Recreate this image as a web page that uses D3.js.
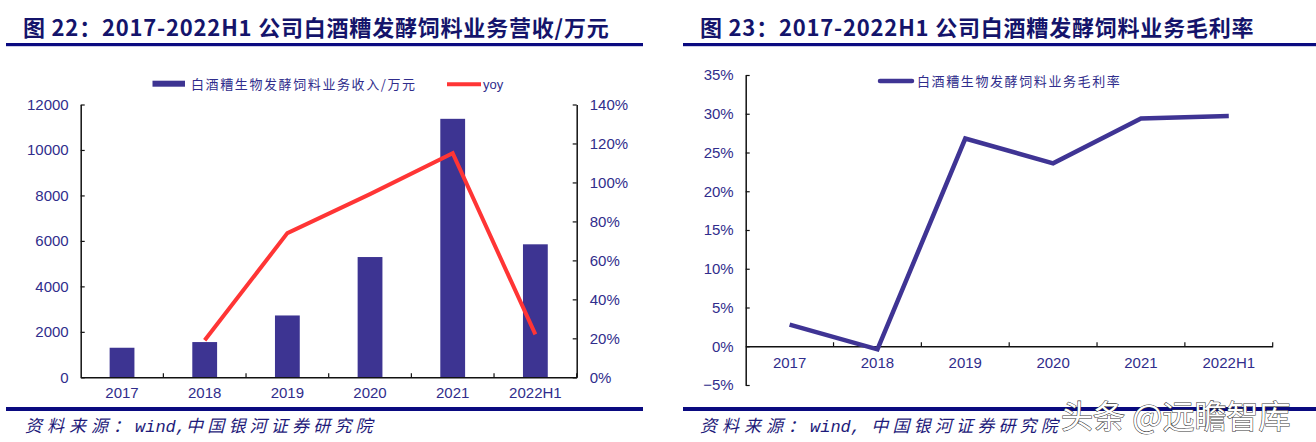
<!DOCTYPE html>
<html>
<head>
<meta charset="utf-8">
<script src="https://cdn.jsdelivr.net/npm/d3@7/dist/d3.min.js"></script>
<style>
  html, body { margin: 0; padding: 0; background: #fff; }
  svg { display: block; }
</style>
</head>
<body>
<svg id="chart" width="1316" height="442"></svg>
<script>
// ---------- data ----------
const categories = ["2017", "2018", "2019", "2020", "2021", "2022H1"];
const revenue = [1300, 1550, 2720, 5290, 11370, 5850];          // 万元
const yoy = [null, 0.19, 0.74, 0.94, 1.15, 0.22];                // growth
const grossMargin = [0.028, -0.004, 0.268, 0.236, 0.294, 0.297]; // margin
const revenueTicks = [0, 2000, 4000, 6000, 8000, 10000, 12000];
const yoyTicks = [0, 0.2, 0.4, 0.6, 0.8, 1.0, 1.2, 1.4];
const marginTicks = [-0.05, 0, 0.05, 0.10, 0.15, 0.20, 0.25, 0.30, 0.35];

const title1 = "图 22：2017-2022H1 公司白酒糟发酵饲料业务营收/万元";
const title2 = "图 23：2017-2022H1 公司白酒糟发酵饲料业务毛利率";
const legendBar = "白酒糟生物发酵饲料业务收入/万元";
const legendYoy = "yoy";
const legendMargin = "白酒糟生物发酵饲料业务毛利率";
const source1 = ["资料来源：", "wind,", "中国银河证券研究院"];
const source2 = ["资料来源：", "wind, ", "中国银河证券研究院"];
const watermark = "头条 @远瞻智库";

// ---------- styles ----------
const NAVY = "#14146b";
const RULE = "#0a0a80";
const LABEL = "#302d8c";
const BAR = "#3d3492";
const RED = "#ff3535";
const PURPLE = "#3f3494";
const tickFont = "'Liberation Sans Narrow', 'Arial Narrow', 'Liberation Sans', Arial, sans-serif";
const cjkFont = "'Liberation Sans Narrow', 'Noto Sans CJK SC', sans-serif";

const svg = d3.select("#chart");

function styleAxis(g) {
  g.selectAll("path.domain").attr("stroke", "#111").attr("stroke-width", 1.5);
  g.selectAll(".tick line").attr("stroke", "#111").attr("stroke-width", 1.2);
  g.selectAll(".tick text").attr("fill", LABEL).attr("font-family", tickFont).attr("font-size", 15);
}

// ---------- titles & rules ----------
function header(x0, x1, tx, text) {
  svg.append("text").attr("x", tx).attr("y", 36)
    .attr("font-family", cjkFont).attr("font-weight", "bold")
    .attr("font-size", 22).attr("letter-spacing", 0.8)
    .attr("fill", NAVY).text(text);
  svg.append("rect").attr("x", x0).attr("y", 43).attr("width", x1 - x0).attr("height", 3.2).attr("fill", RULE);
  svg.append("rect").attr("x", x0).attr("y", 407).attr("width", x1 - x0).attr("height", 4).attr("fill", RULE);
}
header(6, 643, 23, title1);
header(683, 1316, 700, title2);

function sourceLine(x, parts) {
  const t = svg.append("text").attr("x", x).attr("y", 432)
    .attr("font-style", "italic").attr("font-size", 17).attr("fill", "#1e1a7a")
    .attr("font-family", "'Noto Sans CJK SC', sans-serif");
  t.append("tspan").attr("letter-spacing", 5).text(parts[0]);
  t.append("tspan").attr("font-family", "'Liberation Mono', monospace").attr("letter-spacing", 0).text(parts[1]);
  t.append("tspan").attr("letter-spacing", 4.2).text(parts[2]);
}
sourceLine(25, source1);
sourceLine(700, source2);

// ---------- left chart ----------
const xL = d3.scaleBand().domain(categories).range([80.7, 576.7]).padding(0);
const yL = d3.scaleLinear().domain([0, 12000]).range([377.3, 104.5]);
const yR = d3.scaleLinear().domain([0, 1.4]).range([377.3, 104.5]);
const barW = xL.bandwidth() * 0.3;

svg.append("g").selectAll("rect").data(categories).join("rect")
  .attr("x", (d) => xL(d) + xL.bandwidth() / 2 - barW / 2)
  .attr("y", (d, i) => yL(revenue[i]))
  .attr("width", barW)
  .attr("height", (d, i) => yL(0) - yL(revenue[i]))
  .attr("fill", BAR);

const gLy = svg.append("g").attr("transform", `translate(${xL.range()[0]},0)`)
  .call(d3.axisLeft(yL).tickValues(revenueTicks).tickFormat(d3.format("d")).tickSize(-4).tickSizeOuter(0).tickPadding(12));
styleAxis(gLy);
const gRy = svg.append("g").attr("transform", `translate(${xL.range()[1]},0)`)
  .call(d3.axisRight(yR).tickValues(yoyTicks).tickFormat(d3.format(".0%")).tickSize(-4).tickSizeOuter(0).tickPadding(13));
styleAxis(gRy);

const gLx = svg.append("g").attr("transform", `translate(0,${yL(0)})`)
  .call(d3.axisBottom(xL).tickSize(0).tickPadding(10));
styleAxis(gLx);
svg.append("g").selectAll("line").data(categories).join("line")
  .attr("x1", (d) => xL(d) + xL.bandwidth()).attr("x2", (d) => xL(d) + xL.bandwidth())
  .attr("y1", yL(0)).attr("y2", yL(0) - 4)
  .attr("stroke", "#111").attr("stroke-width", 1.2);

const yoyLine = d3.line()
  .defined((d) => d.v !== null)
  .x((d) => xL(d.c) + xL.bandwidth() / 2)
  .y((d) => yR(d.v));
svg.append("path")
  .datum(categories.map((c, i) => ({ c, v: yoy[i] })))
  .attr("d", yoyLine).attr("fill", "none")
  .attr("stroke", RED).attr("stroke-width", 4).attr("stroke-linejoin", "miter");

// legend left
svg.append("rect").attr("x", 152.5).attr("y", 80.7).attr("width", 32.5).attr("height", 6).attr("fill", BAR);
svg.append("text").attr("x", 191).attr("y", 89)
  .attr("font-family", "'Noto Sans CJK SC', sans-serif").attr("font-size", 13).attr("letter-spacing", 1.6)
  .attr("fill", LABEL).text(legendBar);
svg.append("line").attr("x1", 447).attr("x2", 481).attr("y1", 84.3).attr("y2", 84.3)
  .attr("stroke", RED).attr("stroke-width", 4);
svg.append("text").attr("x", 483).attr("y", 89)
  .attr("font-family", "'Liberation Sans', Arial, sans-serif").attr("font-size", 13)
  .attr("fill", LABEL).text(legendYoy);

// ---------- right chart ----------
const x2 = d3.scaleBand().domain(categories).range([745.7, 1272.7]).padding(0);
const y2 = d3.scaleLinear().domain([-0.05, 0.35]).range([385, 75]);

const g2y = svg.append("g").attr("transform", `translate(${x2.range()[0]},0)`)
  .call(d3.axisLeft(y2).tickValues(marginTicks).tickFormat(d3.format(".0%")).tickSize(-4).tickSizeOuter(0).tickPadding(12));
styleAxis(g2y);
g2y.selectAll(".tick text").text((d) => d < 0 ? "\u2212" + d3.format(".0%")(-d) : d3.format(".0%")(d));

const g2x = svg.append("g").attr("transform", `translate(0,${y2(0)})`)
  .call(d3.axisBottom(x2).tickSize(0).tickPadding(11));
styleAxis(g2x);
svg.append("g").selectAll("line").data(categories).join("line")
  .attr("x1", (d) => x2(d) + x2.bandwidth()).attr("x2", (d) => x2(d) + x2.bandwidth())
  .attr("y1", y2(0)).attr("y2", y2(0) - 4)
  .attr("stroke", "#111").attr("stroke-width", 1.2);

const marginLine = d3.line()
  .x((d) => x2(d.c) + x2.bandwidth() / 2)
  .y((d) => y2(d.v));
svg.append("path")
  .datum(categories.map((c, i) => ({ c, v: grossMargin[i] })))
  .attr("d", marginLine).attr("fill", "none")
  .attr("stroke", PURPLE).attr("stroke-width", 4.5).attr("stroke-linejoin", "miter");

// legend right
svg.append("line").attr("x1", 880).attr("x2", 912).attr("y1", 81).attr("y2", 81)
  .attr("stroke", PURPLE).attr("stroke-width", 4.5).attr("stroke-linecap", "round");
svg.append("text").attr("x", 917).attr("y", 86)
  .attr("font-family", "'Noto Sans CJK SC', sans-serif").attr("font-size", 13).attr("letter-spacing", 1.6)
  .attr("fill", LABEL).text(legendMargin);

// ---------- watermark ----------
svg.append("text").attr("x", 1061).attr("y", 428)
  .attr("font-family", "'Noto Sans CJK SC', sans-serif").attr("font-size", 32)
  .attr("fill", "#fff").attr("stroke", "#3a3a3a").attr("stroke-width", 1.1)
  .attr("paint-order", "stroke")
  .text(watermark);
</script>
</body>
</html>
